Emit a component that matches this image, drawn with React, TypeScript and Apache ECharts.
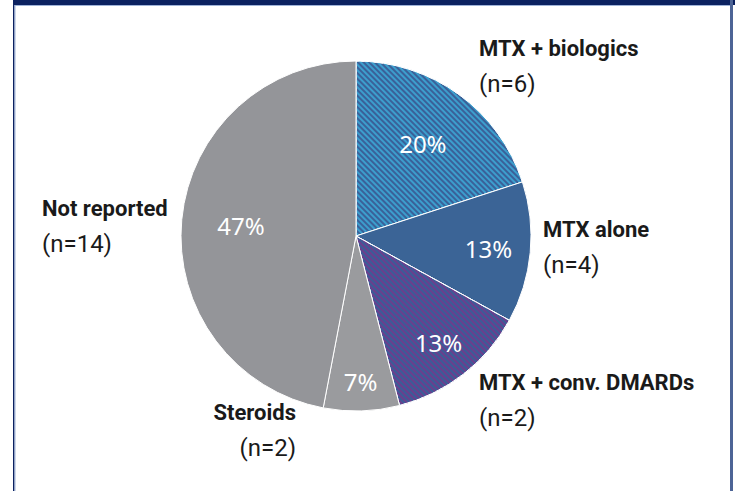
import React, { useEffect, useRef } from "react";
import * as echarts from "echarts";

const categories = ["MTX + biologics", "MTX alone", "MTX + conv. DMARDs", "Steroids", "Not reported"];
const percentValues = [20, 13, 13, 7, 47];
const nCounts = [6, 4, 2, 2, 14];

const sliceColors = ["#3a6199", "#3b6496", "#3b5c98", "#9a9b9e", "#949599"];
const stripeColors = ["#3c9ecd", null, "#6a3f8d", null, null];

export default function App() {
  const ref = useRef<HTMLDivElement>(null);
  useEffect(() => {
    if (!ref.current) return;
    const chart = echarts.init(ref.current, null, { renderer: "svg" });
    const cx = 356, cy = 236, R = 175;
    const total = percentValues.reduce((a, b) => a + b, 0);
    const mids: number[] = [];
    let acc = 0;
    percentValues.forEach((v) => {
      mids.push(((acc + v / 2) / total) * Math.PI * 2);
      acc += v;
    });
    const innerFactor = [0.65, 0.76, 0.77, 0.83, 0.66];
    const outerPos = [
      { x: 479, y: 30, align: "left" },
      { x: 543, y: 211, align: "left" },
      { x: 479, y: 364, align: "left" },
      { x: 296, y: 394, align: "right" },
      { x: 42, y: 190, align: "left" },
    ];
    const data = categories.map((name, i) => ({
      name,
      value: percentValues[i],
      itemStyle: {
        color: sliceColors[i],
        decal: stripeColors[i]
          ? {
              color: stripeColors[i],
              symbol: "rect",
              dashArrayX: [1, 0],
              dashArrayY: [2, 2],
              rotation: Math.PI / 4,
            }
          : undefined,
      },
    }));
    chart.setOption({
      animation: false,
      graphic: [
        { type: "rect", shape: { x: 13, y: 0, width: 722, height: 5 }, style: { fill: "#0b2160" } },
        { type: "rect", shape: { x: 15, y: 5, width: 715, height: 1 }, style: { fill: "#9fb3d8" } },
        { type: "rect", shape: { x: 13, y: 0, width: 1.5, height: 491 }, style: { fill: "#0b2160" } },
        { type: "rect", shape: { x: 14.5, y: 5, width: 1, height: 486 }, style: { fill: "#9fb3d8" } },
        { type: "rect", shape: { x: 730, y: 0, width: 3, height: 491 }, style: { fill: "#4d6496" } },
      ],
      series: [
        {
          type: "pie",
          center: [cx, cy],
          radius: [0, R],
          startAngle: 90,
          clockwise: true,
          silent: true,
          data,
          itemStyle: { borderColor: "#ffffff", borderWidth: 1 },
          label: {
            show: true,
            position: "inside",
            formatter: "{c}%",
            color: "#ffffff",
            fontFamily: "Noto Sans",
            fontSize: 24,
          },
          labelLine: { show: false },
          labelLayout: (p: any) => {
            const i = p.dataIndex;
            const a = mids[i];
            const f = innerFactor[i];
            return {
              x: cx + f * R * Math.sin(a),
              y: cy - f * R * Math.cos(a),
              align: "center",
              verticalAlign: "middle",
            };
          },
        },
        {
          type: "pie",
          center: [cx, cy],
          radius: [0, R],
          startAngle: 90,
          silent: true,
          data: categories.map((name, i) => ({ name, value: percentValues[i] })),
          itemStyle: { color: "rgba(0,0,0,0)" },
          label: {
            show: true,
            position: "outside",
            overflow: "none",
            formatter: (p: any) => `{a|${p.name}}\n{n|(n=${nCounts[p.dataIndex]})}`,
            rich: {
              a: {
                fontFamily: "Roboto",
                fontWeight: "bold",
                fontSize: 22,
                lineHeight: 36,
                color: "#1a1a1a",
              },
              n: {
                fontFamily: "Roboto",
                fontSize: 24,
                lineHeight: 36,
                color: "#1a1a1a",
              },
            },
          },
          labelLine: { show: false },
          labelLayout: (p: any) => {
            const o = outerPos[p.dataIndex];
            return { x: o.x, y: o.y, align: o.align, verticalAlign: "top" };
          },
        },
      ],
    });
    return () => chart.dispose();
  }, []);
  return (
    <div
      ref={ref}
      style={{ position: "absolute", left: 0, top: 0, width: 735, height: 491, background: "#ffffff" }}
    />
  );
}
